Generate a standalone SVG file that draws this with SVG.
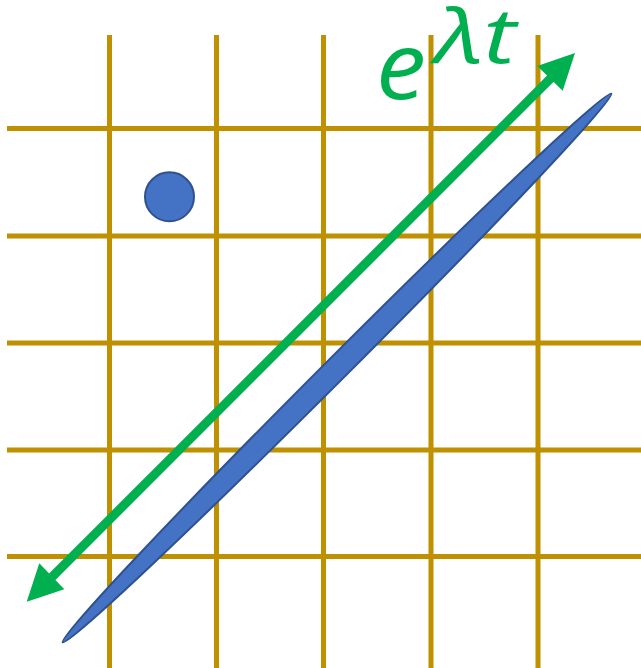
<svg xmlns="http://www.w3.org/2000/svg" width="641" height="668" viewBox="0 0 641 668">
<style>
.grid{stroke:#BF9000;stroke-width:5;fill:none}
.blue{fill:#4472C4;stroke:#2F528F;stroke-width:2}
.arrow{stroke:#00B050;stroke-width:9;fill:none}
.head{fill:#00B050}
.math{fill:#00B050;font-family:"Open Sans","Noto Sans",sans-serif;font-style:italic}
</style>
<rect width="641" height="668" fill="#fff"/>
<g id="grid" class="grid">
<line x1="109.5" y1="35" x2="109.5" y2="668"/>
<line x1="216.5" y1="35" x2="216.5" y2="668"/>
<line x1="323.5" y1="35" x2="323.5" y2="668"/>
<line x1="431" y1="35" x2="431" y2="668"/>
<line x1="538" y1="35" x2="538" y2="668"/>
<line x1="7" y1="128.5" x2="641" y2="128.5"/>
<line x1="7" y1="236" x2="641" y2="236"/>
<line x1="7" y1="343" x2="641" y2="343"/>
<line x1="7" y1="450" x2="641" y2="450"/>
<line x1="7" y1="556.5" x2="641" y2="556.5"/>
</g>
<g id="dot"><circle class="blue" cx="169.5" cy="196.8" r="24.5"/></g>
<g id="ellipse"><ellipse class="blue" cx="337" cy="368" rx="388" ry="11.5" transform="rotate(-45 337 368)"/></g>
<g id="connectors">
<line class="arrow" x1="52" y1="577" x2="551" y2="78"/>
<polygon class="head" points="575,53 537.3,66 562.7,90.7"/>
<polygon class="head" points="26.7,601.7 39.3,563.3 64.3,589.3"/>
</g>
<g id="label">
<text class="math" x="376" y="99" font-size="94" textLength="50" lengthAdjust="spacingAndGlyphs">e</text>
<text class="math" x="435" y="63" font-size="76" textLength="81" lengthAdjust="spacingAndGlyphs">λt</text>
</g>
</svg>
